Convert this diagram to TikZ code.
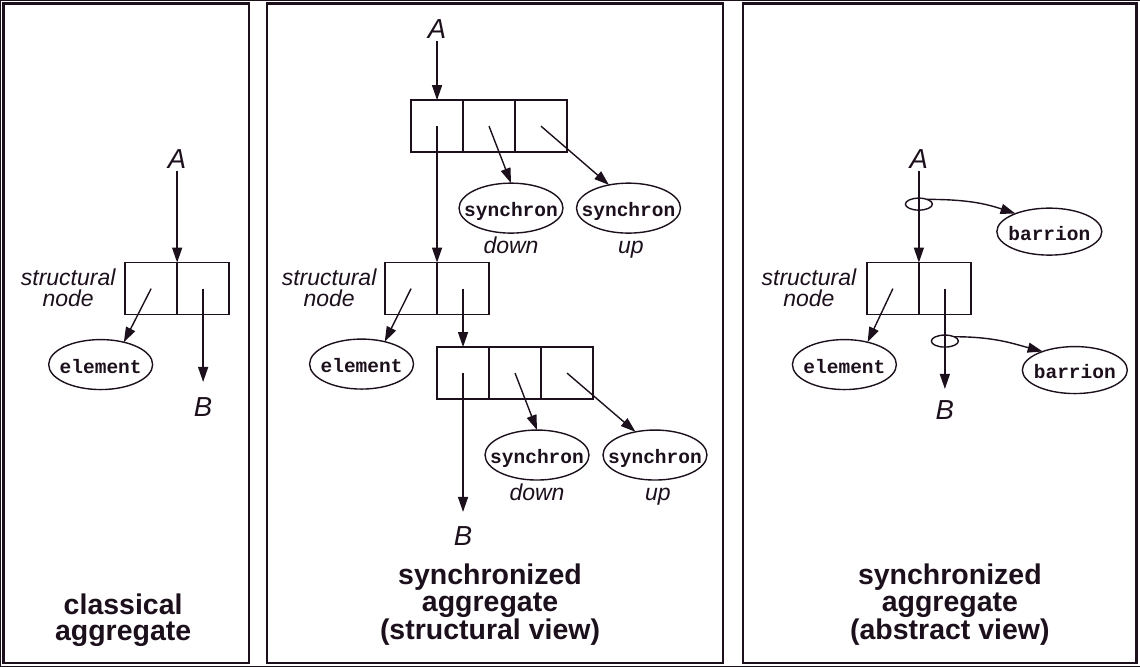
\documentclass[tikz,border=0pt]{standalone}
\usepackage{fontspec}
\setmainfont{Liberation Sans}
\setmonofont{Liberation Mono}
\usetikzlibrary{arrows.meta,shapes.geometric}
\definecolor{ink}{RGB}{28,16,28}

\begin{document}
\begin{tikzpicture}[x=1pt,y=-1pt,
  every path/.style={draw=ink},
  lbl/.style={font=\fontsize{23}{21}\selectfont\itshape, text=ink, inner sep=0pt, anchor=base},
  endlbl/.style={font=\fontsize{27.5}{27}\selectfont\itshape, text=ink, inner sep=0pt, anchor=base},
  ttl/.style={font=\fontsize{28.5}{28}\selectfont\bfseries, text=ink, inner sep=0pt, anchor=base},
  cell/.style={draw=ink, line width=1.4pt, minimum width=52pt, minimum height=52pt, inner sep=0pt, outer sep=0pt},
  oval/.style={draw=ink, ellipse, line width=1.4pt, minimum width=104pt, minimum height=50pt,
    inner sep=0pt, outer sep=0pt, text height=17pt, text depth=0pt, text=ink,
    font=\fontsize{19.5}{19}\selectfont\ttfamily\bfseries},
  ring/.style={draw=ink, ellipse, line width=1.4pt, minimum width=27pt, minimum height=12pt, inner sep=0pt, outer sep=0pt},
  panelframe/.style={draw=ink, line width=2.7pt},
  arr/.style={draw=ink, line width=1.4pt, -{Triangle[length=15pt,width=10pt]}}
]
\useasboundingbox (0,0) rectangle (1140,666);

% ---------- panel frames ----------
\draw[panelframe] (3,3) rectangle (249,663);
\draw[panelframe] (267,3) rectangle (723,663);
\draw[panelframe] (743,3) rectangle (1137,663);

% ================= classical aggregate =================
\node[cell] (p1a) at (151,288.5) {};
\node[cell] (p1b) at (203,288.5) {};
\node[lbl] (sn1a) at (68,285) {structural};
\node[lbl] (sn1b) at (68,306) {node};
\node[oval] (el1) at (100.5,364.5) {\makebox[0pt]{element}};
\node[endlbl] (A1) at (177,168) {A};
\node[endlbl] (B1) at (203,416) {B};
\draw[arr, shorten <=3pt] (A1) -- (p1a.north east);
\draw[arr] (p1a.center) -- (el1.44);
\draw[arr, shorten >=15pt] (p1b.center) -- (B1);
\node[ttl] (ti1a) at (123,615) {classical};
\node[ttl] (ti1b) at (123,641) {aggregate};

% ================= synchronized aggregate, structural view =================
% upper synchronisation node
\node[cell] (s1) at (437,126) {};
\node[cell] (s2) at (489,126) {};
\node[cell] (s3) at (541,126) {};
\node[oval] (sd1) at (511,208) {\makebox[0pt]{synchron}};
\node[oval] (su1) at (628.5,208) {\makebox[0pt]{synchron}};
\node[lbl] (dn1) at (511,253) {down};
\node[lbl] (up1) at (631,253) {up};
% structural node
\node[cell] (n1) at (411,288.5) {};
\node[cell] (n2) at (463,288.5) {};
\node[lbl] (sn2a) at (329,285) {structural};
\node[lbl] (sn2b) at (329,306) {node};
\node[oval] (el2) at (361.5,364) {\makebox[0pt]{element}};
% lower synchronisation node
\node[cell] (r1) at (463,373) {};
\node[cell] (r2) at (515,373) {};
\node[cell] (r3) at (567,373) {};
\node[oval] (sd2) at (537,455) {\makebox[0pt]{synchron}};
\node[oval] (su2) at (655,455) {\makebox[0pt]{synchron}};
\node[lbl] (dn2) at (537,500) {down};
\node[lbl] (up2) at (658,500) {up};
\node[endlbl] (A2) at (437,38) {A};
\node[endlbl] (B2) at (463,545) {B};
\draw[arr, shorten <=3pt] (A2) -- (s1.north);
\draw[arr] (s1.center) -- (n1.north east);
\draw[arr] (s2.center) -- (sd1.north);
\draw[arr] (s3.center) -- (su1.130);
\draw[arr] (n1.center) -- (el2.44);
\draw[arr] (n2.center) -- (r1.north);
\draw[arr] (r2.center) -- (sd2.north);
\draw[arr] (r3.center) -- (su2.130);
\draw[arr, shorten >=14pt] (r1.center) -- (B2);
\node[ttl] (ti2a) at (490,584) {synchronized};
\node[ttl] (ti2b) at (490,612) {aggregate};
\node[ttl] (ti2c) at (490,640) {(structural view)};

% ================= synchronized aggregate, abstract view =================
\node[cell] (q1) at (893,288.5) {};
\node[cell] (q2) at (945,288.5) {};
\node[lbl] (sn3a) at (809,285) {structural};
\node[lbl] (sn3b) at (809,306) {node};
\node[oval] (el3) at (844.5,364.5) {\makebox[0pt]{element}};
\node[oval, minimum width=105pt, minimum height=47pt] (bar1) at (1049.5,231.5) {\makebox[0pt]{barrion}};
\node[oval, minimum width=105pt, minimum height=47pt] (bar2) at (1075,370) {\makebox[0pt]{barrion}};
\node[ring] (ringA) at (919,204) {};
\node[ring] (ringB) at (945,341) {};
\node[endlbl] (A3) at (919,168) {A};
\node[endlbl] (B3) at (945,419) {B};
\draw[arr, shorten <=3pt] (A3) -- (q1.north east);
\draw[arr] (q1.center) -- (el3.44);
\draw[arr, shorten >=11pt] (q2.center) -- (B3);
\draw[arr] (ringA.30) .. controls +(40,0) and +(-30,-10) .. (bar1.152);
\draw[arr] (ringB.25) .. controls +(40,0) and +(-30,-8) .. (bar2.150);
\node[ttl] (ti3a) at (950,584) {synchronized};
\node[ttl] (ti3b) at (950,612) {aggregate};
\node[ttl] (ti3c) at (950,640) {(abstract view)};
\end{tikzpicture}
\end{document}
